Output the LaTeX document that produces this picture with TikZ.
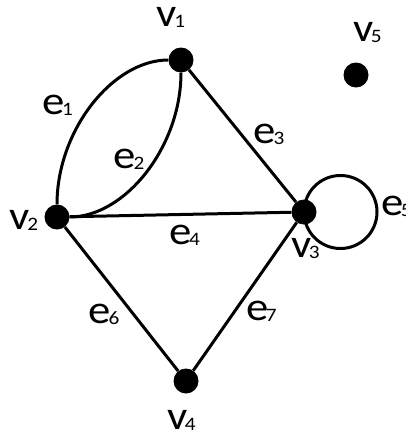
\documentclass[tikz,border=0pt]{standalone}
\usepackage{fontspec}
\setmainfont[FakeStretch=1.12]{Carlito}
\usetikzlibrary{positioning}
\newcommand{\ix}[1]{\kern-2.5pt\raisebox{-1pt}{\fontsize{19}{19}\selectfont #1}}

\begin{document}
\begin{tikzpicture}[x=1pt, y=-1pt,
    vtx/.style={circle, fill=black, minimum size=25pt, inner sep=0pt},
    lbl/.style={font=\fontsize{40}{40}\selectfont, inner sep=0pt},
    edg/.style={line width=3pt}]
  \useasboundingbox (0,0) rectangle (406,434);
  \node[vtx] (v1) at (181,60) {};
  \node[vtx] (v2) at (57,217) {};
  \node[vtx] (v3) at (304,212) {};
  \node[vtx] (v4) at (186,381) {};
  \node[vtx] (v5) at (356,75) {};
  \node[lbl, above=20pt of v1, xshift=-10pt] (n1) {v\ix{1}};
  \node[lbl, left=6pt of v2, yshift=-3pt] (n2) {v\ix{2}};
  \node[lbl, below=13pt of v3, xshift=1.5pt] (n3) {v\ix{3}};
  \node[lbl, below=16pt of v4, xshift=-4.5pt] (n4) {v\ix{4}};
  \node[lbl, above=19pt of v5, xshift=11.5pt] (n5) {v\ix{5}};
  \draw[edg] (v2) .. controls +(0,-87) and +(-68,0) .. (v1);
  \draw[edg] (v2) .. controls +(68,0) and +(0,87) .. (v1);
  \draw[edg] (v1) -- (v3) node[lbl, pos=0.49, right=11pt] (e3) {e\ix{3}};
  \draw[edg] (v2) -- (v3) node[lbl, midway, below=9pt, xshift=4pt] (e4) {e\ix{4}};
  \draw[edg] (v2) -- (v4) node[lbl, pos=0.61, left=13pt] (e6) {e\ix{6}};
  \draw[edg] (v4) -- (v3) node[lbl, pos=0.4, right=10pt] (e7) {e\ix{7}};
  \draw[edg] (v3.center) arc[start angle=180, end angle=540, radius=36.5pt];
  \node[lbl] (e1) at (57.5,105) {e\ix{1}};
  \node[lbl] (e2) at (129,159) {e\ix{2}};
  \node[lbl, anchor=west] (e5) at (381,206) {e\ix{5}};
\end{tikzpicture}
\end{document}
